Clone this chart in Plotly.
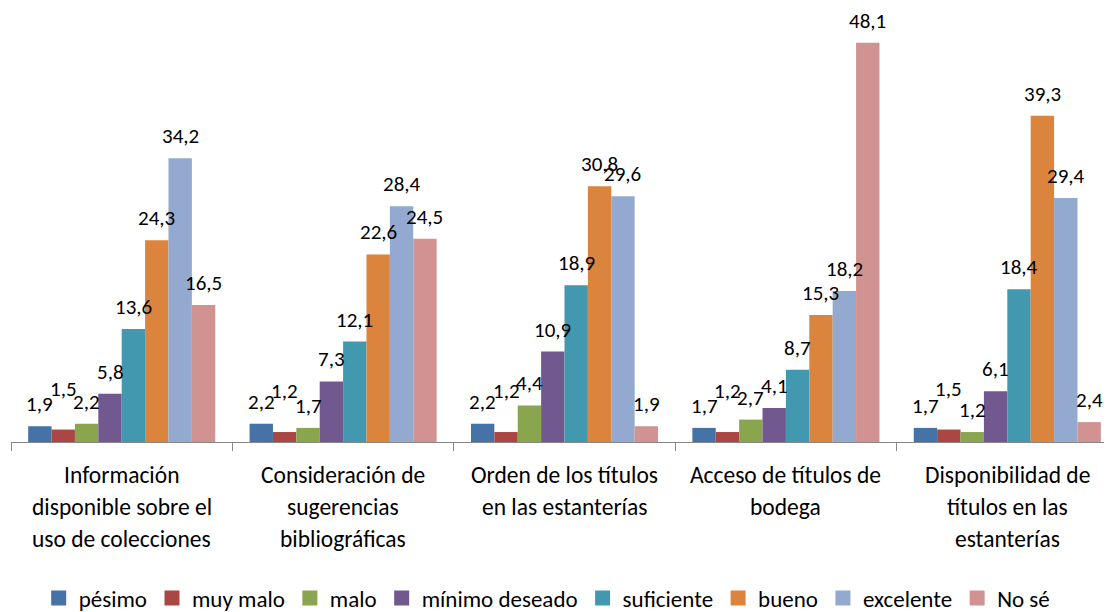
import plotly.graph_objects as go

categories = [
    "Información<br>disponible sobre el<br>uso de colecciones",
    "Consideración de<br>sugerencias<br>bibliográficas",
    "Orden de los títulos<br>en las estanterías",
    "Acceso de títulos de<br>bodega",
    "Disponibilidad de<br>títulos en las<br>estanterías",
]
series_names = ["pésimo", "muy malo", "malo", "mínimo deseado", "suficiente", "bueno", "excelente", "No sé"]
pesimo = [1.9, 2.2, 2.2, 1.7, 1.7]
muy_malo = [1.5, 1.2, 1.2, 1.2, 1.5]
malo = [2.2, 1.7, 4.4, 2.7, 1.2]
minimo_deseado = [5.8, 7.3, 10.9, 4.1, 6.1]
suficiente = [13.6, 12.1, 18.9, 8.7, 18.4]
bueno = [24.3, 22.6, 30.8, 15.3, 39.3]
excelente = [34.2, 28.4, 29.6, 18.2, 29.4]
no_se = [16.5, 24.5, 1.9, 48.1, 2.4]
series_values = [pesimo, muy_malo, malo, minimo_deseado, suficiente, bueno, excelente, no_se]

colors = ["#4572A7", "#AA4643", "#89A54E", "#71588F", "#4198AF", "#DB843D", "#93A9CF", "#D19392"]
FONT = "Calibri, Carlito, Lato, sans-serif"

# the page body adds an 8px margin, so shift the plot area up/left to compensate
W, H = 1104, 612
ML, MR, MT, MB = 3, 0, 19, 178
BARGAP = 0.155
cat_px = 221.4
plot_w = W - ML - MR
x_hi = -0.5 + plot_w / cat_px
bar_px = cat_px * (1 - BARGAP) / len(series_names)

fig = go.Figure()
for name, vals, col in zip(series_names, series_values, colors):
    fig.add_trace(go.Bar(x=categories, y=vals, name=name, marker_color=col,
                         marker_line_width=0, showlegend=False))
    # legend proxy with a bigger square symbol
    fig.add_trace(go.Scatter(x=[None], y=[None], mode="markers", name=name,
                             marker=dict(symbol="square", size=15, color=col)))

annotations = []
n = len(series_names)
for i, (name, vals) in enumerate(zip(series_names, series_values)):
    lift = 41 if name == "muy malo" else 22
    for cat, v in zip(categories, vals):
        annotations.append(dict(
            x=cat, y=v, xref="x", yref="y", text=f"{v:.1f}".replace(".", ","),
            showarrow=False, xshift=(i - (n - 1) / 2) * bar_px, yshift=lift,
            yanchor="middle", font=dict(family=FONT, size=21, color="#000000"),
        ))

for cat in categories:
    for j, line in enumerate(cat.split("<br>")):
        annotations.append(dict(
            x=cat, y=0, xref="x", yref="y", text=line, showarrow=False,
            yshift=-33 - 32 * j, yanchor="middle",
            font=dict(family=FONT, size=23.5, color="#000000"),
        ))

fig.update_layout(
    width=W, height=H,
    margin=dict(l=ML, r=MR, t=MT, b=MB),
    paper_bgcolor="white", plot_bgcolor="white",
    barmode="group", bargap=BARGAP, bargroupgap=0,
    font=dict(family=FONT, size=23.5, color="#000000"),
    annotations=annotations,
    legend=dict(orientation="h", x=0.487, xanchor="center", y=-0.376, yanchor="middle",
                font=dict(family=FONT, size=23, color="#000000"),
                itemwidth=30, tracegroupgap=0),
    xaxis=dict(type="category", range=[-0.5, x_hi], showticklabels=False,
               tickson="boundaries", ticks="outside", ticklen=8, tickcolor="#868686",
               showline=True, linecolor="#868686", linewidth=1, showgrid=False,
               zeroline=False),
    yaxis=dict(range=[0, 50], visible=False, showgrid=False, zeroline=False),
)

fig.write_html("out.html")
